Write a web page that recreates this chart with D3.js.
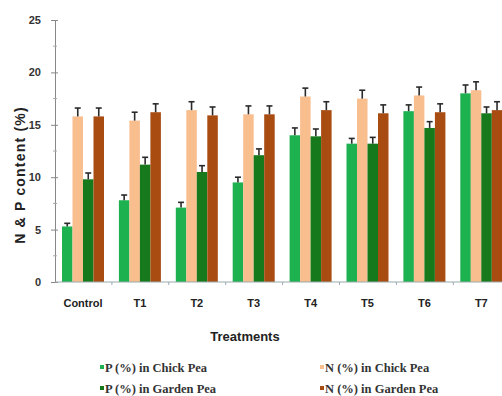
<!DOCTYPE html>
<html>
<head>
<meta charset="utf-8">
<script src="https://cdn.jsdelivr.net/npm/d3@7"></script>
<style>
  body { margin: 0; background: #fff; }
  svg { display: block; }
</style>
</head>
<body>
<div id="chart"></div>
<script>
const width = 502
const height = 396

const categories = ["Control", "T1", "T2", "T3", "T4", "T5", "T6", "T7"]
const seriesNames = ["P (%) in Chick Pea", "N (%) in Chick Pea", "P (%) in Garden Pea", "N (%) in Garden Pea"]
const colors = ["#1db150", "#f9be8e", "#167a1c", "#a94c12"]

const pChick = [5.3, 7.8, 7.1, 9.5, 14.0, 13.2, 16.3, 18.0]
const nChick = [15.8, 15.4, 16.4, 16.0, 17.7, 17.5, 17.8, 18.3]
const pGarden = [9.8, 11.2, 10.5, 12.1, 13.9, 13.2, 14.7, 16.1]
const nGarden = [15.8, 16.2, 15.9, 16.0, 16.4, 16.1, 16.2, 16.4]

const pChickErr = [0.3, 0.5, 0.5, 0.5, 0.7, 0.5, 0.6, 0.8]
const nChickErr = [0.8, 0.8, 0.8, 0.8, 0.8, 0.8, 0.8, 0.8]
const pGardenErr = [0.6, 0.7, 0.6, 0.6, 0.7, 0.6, 0.6, 0.6]
const nGardenErr = [0.8, 0.8, 0.8, 0.8, 0.8, 0.8, 0.8, 0.8]

const yTicks = [0, 5, 10, 15, 20, 25]

const values = [pChick, nChick, pGarden, nGarden]
const errors = [pChickErr, nChickErr, pGardenErr, nGardenErr]

const margin = { left: 55, top: 20, bottom: 114 }
const plotBottom = height - margin.bottom
const sans = "Arial, 'Liberation Sans', sans-serif"

const svg = d3.select("div#chart").append("svg").attr("width", width).attr("height", height)

const x = d3.scaleBand().domain(categories).range([margin.left, margin.left + 8 * 56.9]).padding(0)
const xs = d3.scaleBand().domain(d3.range(4)).range([7, 49]).padding(0)
const y = d3.scaleLinear().domain([0, 25]).range([plotBottom, margin.top])

// bars
const rows = []
categories.forEach((c, i) => {
    values.forEach((s, j) => {
        rows.push({ cat: c, s: j, v: s[i], e: errors[j][i] })
    })
})

const barGroup = svg.append("g").attr("class", "bars")
barGroup.selectAll("rect").data(rows).join("rect")
    .attr("x", d => x(d.cat) + xs(d.s))
    .attr("y", d => y(d.v))
    .attr("width", xs.bandwidth())
    .attr("height", d => y(0) - y(d.v))
    .attr("fill", d => colors[d.s])

// error bars
const errGroup = svg.append("g").attr("class", "errors")
    .attr("stroke", "#2a2a2a").attr("stroke-width", 1.6)
rows.forEach(d => {
    const cx = x(d.cat) + xs(d.s) + xs.bandwidth() / 2
    errGroup.append("line").attr("x1", cx).attr("x2", cx).attr("y1", y(d.v)).attr("y2", y(d.v + d.e))
    errGroup.append("line").attr("x1", cx - 3).attr("x2", cx + 3).attr("y1", y(d.v + d.e)).attr("y2", y(d.v + d.e))
})

// y axis
const yAxisGroup = svg.append("g").attr("transform", `translate(${margin.left},0)`)
yAxisGroup.call(d3.axisLeft(y).tickValues(yTicks).tickSize(4).tickPadding(10))
yAxisGroup.select(".domain").attr("stroke", "#888")
yAxisGroup.selectAll(".tick line").attr("stroke", "#888").attr("x2", 3).attr("x1", -4)
yAxisGroup.selectAll(".tick text")
    .attr("font-family", sans)
    .attr("font-size", 11).attr("font-weight", "bold").attr("fill", "#333")
yAxisGroup.selectAll(".minor").data([2.5, 7.5, 12.5, 17.5, 22.5]).join("line")
    .attr("class", "minor")
    .attr("x1", -2).attr("x2", 2)
    .attr("y1", d => y(d)).attr("y2", d => y(d))
    .attr("stroke", "#aaa")

// x axis
const xAxisGroup = svg.append("g").attr("transform", `translate(0,${plotBottom})`)
xAxisGroup.append("line").attr("x1", margin.left).attr("x2", width).attr("stroke", "#9aa")
xAxisGroup.selectAll(".btick").data(categories.slice(1)).join("line")
    .attr("class", "btick")
    .attr("x1", d => x(d)).attr("x2", d => x(d))
    .attr("y1", 0).attr("y2", 3)
    .attr("stroke", "#9ab")
xAxisGroup.selectAll(".clabel").data(categories).join("text")
    .attr("class", "clabel")
    .attr("x", d => x(d) + 28)
    .attr("y", 25)
    .attr("text-anchor", "middle")
    .attr("font-family", sans)
    .attr("font-size", 11).attr("font-weight", "bold").attr("fill", "#222")
    .text(d => d)

svg.append("text")
    .attr("x", 245).attr("y", 341)
    .attr("text-anchor", "middle")
    .attr("font-family", sans)
    .attr("font-size", 13).attr("font-weight", "bold").attr("fill", "#222")
    .text("Treatments")

svg.append("text")
    .attr("transform", "translate(25,175) rotate(-90)")
    .attr("text-anchor", "middle")
    .attr("font-family", sans)
    .attr("font-size", 14).attr("font-weight", "bold").attr("fill", "#222")
    .attr("letter-spacing", 1.2)
    .text("N & P content (%)")

// legend
const legendPos = [[100, 372], [320, 372], [100, 393], [320, 393]]
const legend = svg.append("g").attr("class", "legend")
seriesNames.forEach((t, i) => {
    const [lx, ly] = legendPos[i]
    legend.append("rect").attr("x", lx).attr("y", ly - 7).attr("width", 4).attr("height", 4)
        .attr("fill", colors[i])
    legend.append("text").attr("x", lx + 5).attr("y", ly)
        .attr("font-family", "'Liberation Serif', 'Times New Roman', serif")
        .attr("font-size", 12.5).attr("font-weight", "bold").attr("fill", "#333")
        .text(t)
})
</script>
</body>
</html>
